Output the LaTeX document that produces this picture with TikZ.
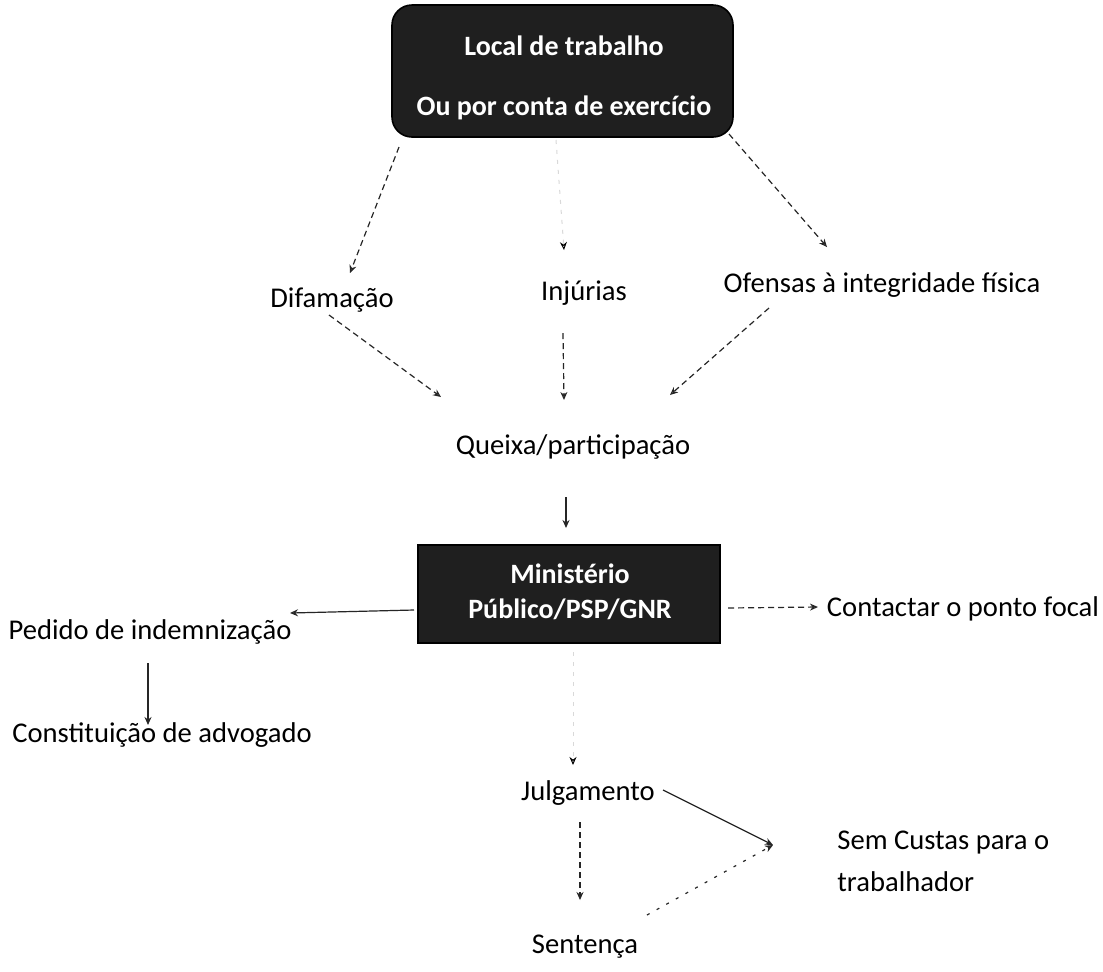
\documentclass[tikz,border=0pt]{standalone}
\usepackage{fontspec}
\setmainfont{Carlito}
\usetikzlibrary{arrows.meta}
\begin{document}
\begin{tikzpicture}[x=0.5pt,y=-0.5pt,
 lbl/.style={font=\fontsize{14.3}{17}\selectfont, inner sep=0pt, anchor=center},
 darkbox/.style={fill=black!88, draw=black, line width=0.8pt, inner sep=0pt},
 boxtext/.style={text=white, font=\bfseries\fontsize{14}{17}\selectfont, align=center, inner sep=0pt},
 con/.style={line width=0.6pt, draw=black!85, -{Stealth[open,length=4pt,width=3.5pt]}},
 dcon/.style={con, dash pattern=on 3pt off 2pt},
 spcon/.style={con, dash pattern=on 1.5pt off 4pt},
 faint/.style={line width=0.5pt, draw=black!15, dash pattern=on 2pt off 3pt, -{Stealth[open,length=4pt,width=3.5pt,black]}}
]
\useasboundingbox (0,0) rectangle (1103,971);
\fill[white] (0,0) rectangle (1103,971);

% nodes
\node[darkbox, rounded corners=10pt, minimum width=170.5pt, minimum height=66pt] (top) at (562.5,71) {};
\node[boxtext] (toptext) at (564,78) {Local de trabalho\\[13pt]Ou por conta de exercício};
\node[lbl] (dif) at (332,300) {Difamação};
\node[lbl] (inj) at (584,293) {Injúrias};
\node[lbl] (ofe) at (882,285) {Ofensas à integridade física};
\node[lbl] (que) at (573,447) {Queixa/participação};
\node[darkbox, minimum width=151pt, minimum height=49pt] (min) at (569,594) {};
\node[boxtext] (mintext) at (570,592) {Ministério\\[0.5pt]Público/PSP/GNR};
\node[lbl] (ped) at (150,632) {Pedido de indemnização};
\node[lbl] (adv) at (162,735) {Constituição de advogado};
\node[lbl] (cont) at (963,609) {Contactar o ponto focal};
\node[lbl] (jul) at (588,793) {Julgamento};
\node[lbl, anchor=west] (sem) at (837,843) {Sem Custas para o};
\node[lbl, anchor=west] (semb) at (837,882) {trabalhador};
\node[lbl] (sen) at (585,947) {Sentença};

% connector end points
\coordinate (top-dif) at (399,147);  \coordinate (dif-in) at (350,273);
\coordinate (top-inj) at (556,140);  \coordinate (inj-in) at (564,250);
\coordinate (top-ofe) at (729,134);  \coordinate (ofe-in) at (827,247);
\coordinate (dif-out) at (329,315);  \coordinate (que-a) at (441,397);
\coordinate (inj-out) at (563,333);  \coordinate (que-b) at (564,400);
\coordinate (ofe-out) at (769,308);  \coordinate (que-c) at (670,395);
\coordinate (que-out) at (566,497);  \coordinate (min-in) at (566,528);
\coordinate (min-l) at (414,610);    \coordinate (ped-in) at (290,613);
\coordinate (ped-out) at (148,663);  \coordinate (adv-in) at (148,725);
\coordinate (min-r) at (728,608);    \coordinate (cont-in) at (818,607);
\coordinate (min-b) at (573,652);    \coordinate (jul-in) at (573,765);
\coordinate (jul-out) at (663,790);  \coordinate (sem-in) at (773,845);
\coordinate (jul-d) at (580,822);    \coordinate (sen-in) at (580,900);
\coordinate (sen-out) at (647,915);

% connectors
\draw[dcon] (top-dif) -- (dif-in);
\draw[faint] (top-inj) -- (inj-in);
\draw[dcon] (top-ofe) -- (ofe-in);
\draw[dcon] (dif-out) -- (que-a);
\draw[dcon] (inj-out) -- (que-b);
\draw[dcon] (ofe-out) -- (que-c);
\draw[con] (que-out) -- (min-in);
\draw[con] (min-l) -- (ped-in);
\draw[con] (ped-out) -- (adv-in);
\draw[dcon] (min-r) -- (cont-in);
\draw[faint] (min-b) -- (jul-in);
\draw[con] (jul-out) -- (sem-in);
\draw[dcon] (jul-d) -- (sen-in);
\draw[spcon] (sen-out) -- (sem-in);
\end{tikzpicture}
\end{document}
